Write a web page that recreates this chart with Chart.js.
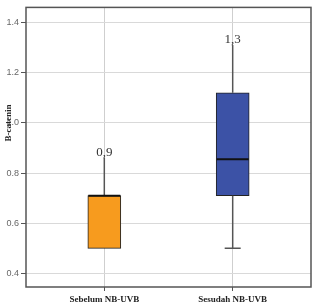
<!DOCTYPE html>
<html>
<head>
<meta charset="utf-8">
<script src="https://cdn.jsdelivr.net/npm/chart.js@4"></script>
<style>
  html, body { margin: 0; padding: 0; background: #fff; }
  #wrap { width: 315px; height: 304px; }
</style>
</head>
<body>
<div id="wrap"><canvas id="boxChart"></canvas></div>
<script>
// data
const categories = ['Sebelum NB-UVB', 'Sesudah NB-UVB'];
const minVals = [0.5, 0.5];
const q1Vals = [0.5, 0.71];
const medianVals = [0.71, 0.855];
const q3Vals = [0.71, 1.12];
const maxVals = [0.86, 1.31];
const topLabels = ['0,9', '1,3'];
const yTicks = [0.4, 0.6, 0.8, 1.0, 1.2, 1.4];
const boxColors = ['#F79B1E', '#3C52A6'];

// whiskers, median and value labels on top of the floating bars
const boxExtras = {
    id: 'boxExtras',
    afterDatasetsDraw(chart) {
        const ctx = chart.ctx;
        const xs = chart.scales.x, ys = chart.scales.y;
        ctx.save();
        categories.forEach((c, i) => {
            const cx = xs.getPixelForValue(i);
            // upper whisker
            ctx.strokeStyle = '#555';
            ctx.lineWidth = 1.5;
            ctx.beginPath();
            ctx.moveTo(cx, ys.getPixelForValue(q3Vals[i]));
            ctx.lineTo(cx, ys.getPixelForValue(maxVals[i]));
            ctx.stroke();
            // lower whisker + cap
            if (minVals[i] < q1Vals[i]) {
                const yMin = ys.getPixelForValue(minVals[i]);
                ctx.beginPath();
                ctx.moveTo(cx, ys.getPixelForValue(q1Vals[i]));
                ctx.lineTo(cx, yMin);
                ctx.moveTo(cx - 8, yMin);
                ctx.lineTo(cx + 8, yMin);
                ctx.stroke();
            }
            // median
            ctx.strokeStyle = '#111';
            ctx.lineWidth = 2;
            const ym = ys.getPixelForValue(medianVals[i]);
            ctx.beginPath();
            ctx.moveTo(cx - 16, ym);
            ctx.lineTo(cx + 16, ym);
            ctx.stroke();
            // value label above the whisker
            ctx.fillStyle = '#333';
            ctx.font = '13px "Liberation Serif"';
            ctx.textAlign = 'center';
            ctx.textBaseline = 'bottom';
            ctx.fillText(topLabels[i], cx, ys.getPixelForValue(maxVals[i]) + 1);
        });
        ctx.restore();
    },
    afterDraw(chart) {
        const ctx = chart.ctx;
        const a = chart.chartArea;
        ctx.save();
        ctx.strokeStyle = '#555';
        ctx.lineWidth = 1.5;
        ctx.strokeRect(a.left, a.top, a.right - a.left, a.bottom - a.top);
        // y axis title
        ctx.translate(9, 123);
        ctx.rotate(-Math.PI / 2);
        ctx.fillStyle = '#222';
        ctx.font = 'bold 9px "Liberation Serif"';
        ctx.textAlign = 'center';
        ctx.textBaseline = 'middle';
        ctx.fillText('B-catenin', 0, 0);
        ctx.restore();
    }
};

const ctx = document.getElementById('boxChart').getContext('2d');
new Chart(ctx, {
    type: 'bar',
    data: {
        datasets: [{
            data: categories.map((c, i) => ({ x: i, y: [q1Vals[i], q3Vals[i]] })),
            backgroundColor: boxColors,
            borderColor: '#222',
            borderWidth: 1,
            borderSkipped: false,
            barThickness: 33
        }]
    },
    options: {
        responsive: true,
        maintainAspectRatio: false,
        animation: false,
        layout: { padding: { left: 0, top: 4, right: 4, bottom: 0 } },
        plugins: {
            legend: { display: false },
            tooltip: { enabled: false }
        },
        scales: {
            x: {
                type: 'linear',
                min: -0.61,
                max: 1.61,
                offset: false,
                afterBuildTicks: (axis) => { axis.ticks = categories.map((c, i) => ({ value: i })); },
                afterFit: (axis) => { axis.height = 17; },
                grid: { offset: false, color: '#cfcfcf', lineWidth: 1, tickLength: 4, tickColor: '#555' },
                border: { display: false },
                ticks: {
                    padding: 3,
                    color: '#222',
                    font: { family: 'Liberation Serif', size: 9, weight: 'bold' },
                    callback: (v) => categories[v] || ''
                }
            },
            y: {
                min: 0.346,
                max: 1.46,
                afterBuildTicks: (axis) => { axis.ticks = yTicks.map(v => ({ value: v })); },
                afterFit: (axis) => { axis.width = 26; },
                grid: { color: '#d9d9d9', lineWidth: 1, tickLength: 5, tickColor: '#555' },
                border: { display: false },
                ticks: {
                    padding: 2,
                    color: '#666',
                    font: { family: 'Liberation Sans', size: 9 },
                    callback: (v) => v.toFixed(1)
                }
            }
        }
    },
    plugins: [boxExtras]
});
</script>
</body>
</html>
